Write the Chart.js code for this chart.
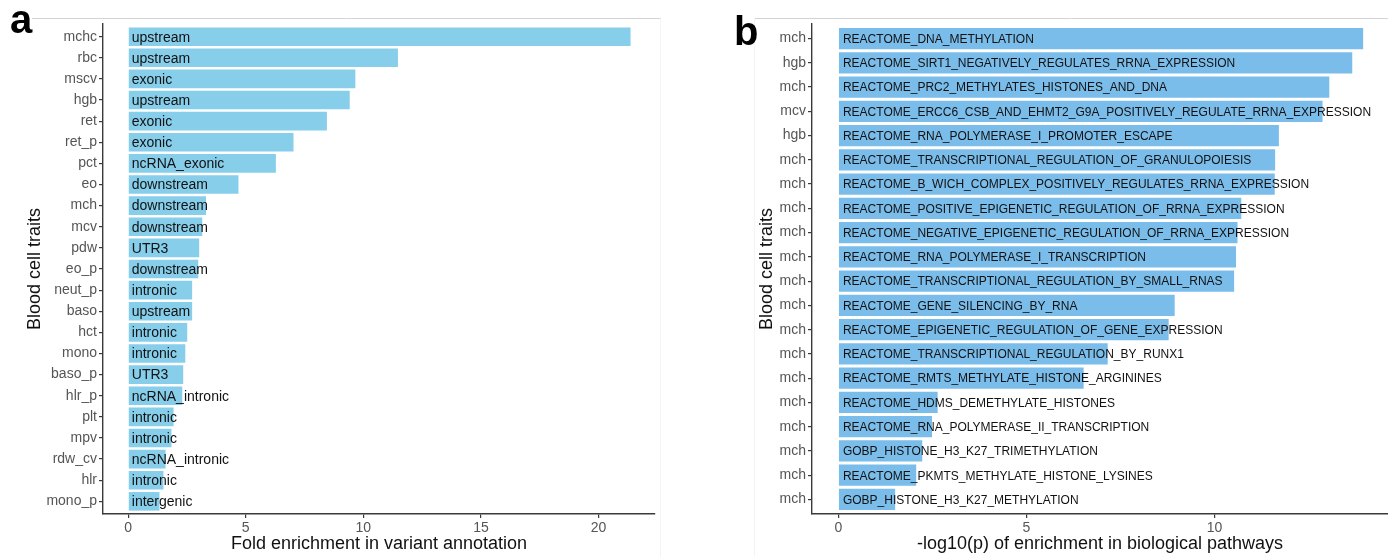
<!DOCTYPE html>
<html>
<head>
<meta charset="utf-8">
<title>Blood cell trait enrichment</title>
<script src="https://cdn.jsdelivr.net/npm/chart.js@4.4.1/dist/chart.umd.min.js"></script>
<style>
    html, body { margin: 0; padding: 0; background: #ffffff; }
    #wrap { position: relative; width: 1388px; height: 557px; overflow: hidden; }
    canvas { position: absolute; top: 0; }
    #panelA { left: 0; }
    #panelB { left: 661px; }
</style>
</head>
<body>
<div id="wrap">
    <canvas id="panelA" width="661" height="557"></canvas>
    <canvas id="panelB" width="727" height="557"></canvas>
</div>
<script>
// Panel a - fold enrichment by variant annotation
const traitsA = ['mchc', 'rbc', 'mscv', 'hgb', 'ret', 'ret_p', 'pct', 'eo', 'mch', 'mcv', 'pdw', 'eo_p',
    'neut_p', 'baso', 'hct', 'mono', 'baso_p', 'hlr_p', 'plt', 'mpv', 'rdw_cv', 'hlr', 'mono_p'];
const foldEnrichment = [21.36, 11.47, 9.66, 9.42, 8.45, 7.03, 6.28, 4.69, 3.31, 3.15, 3.02, 2.98,
    2.72, 2.72, 2.51, 2.43, 2.34, 2.30, 1.93, 1.84, 1.59, 1.50, 1.33];
const annotationsA = ['upstream', 'upstream', 'exonic', 'upstream', 'exonic', 'exonic', 'ncRNA_exonic',
    'downstream', 'downstream', 'downstream', 'UTR3', 'downstream', 'intronic', 'upstream', 'intronic',
    'intronic', 'UTR3', 'ncRNA_intronic', 'intronic', 'intronic', 'ncRNA_intronic', 'intronic', 'intergenic'];

// Panel b - -log10(p) by biological pathway
const traitsB = ['mch', 'hgb', 'mch', 'mcv', 'hgb', 'mch', 'mch', 'mch', 'mch', 'mch',
    'mch', 'mch', 'mch', 'mch', 'mch', 'mch', 'mch', 'mch', 'mch', 'mch'];
const log10p = [13.95, 13.66, 13.05, 12.87, 11.71, 11.61, 11.60, 10.71, 10.61, 10.57,
    10.52, 8.94, 8.78, 7.16, 6.52, 2.64, 2.49, 2.23, 2.07, 1.51];
const pathwaysB = [
    'REACTOME_DNA_METHYLATION',
    'REACTOME_SIRT1_NEGATIVELY_REGULATES_RRNA_EXPRESSION',
    'REACTOME_PRC2_METHYLATES_HISTONES_AND_DNA',
    'REACTOME_ERCC6_CSB_AND_EHMT2_G9A_POSITIVELY_REGULATE_RRNA_EXPRESSION',
    'REACTOME_RNA_POLYMERASE_I_PROMOTER_ESCAPE',
    'REACTOME_TRANSCRIPTIONAL_REGULATION_OF_GRANULOPOIESIS',
    'REACTOME_B_WICH_COMPLEX_POSITIVELY_REGULATES_RRNA_EXPRESSION',
    'REACTOME_POSITIVE_EPIGENETIC_REGULATION_OF_RRNA_EXPRESSION',
    'REACTOME_NEGATIVE_EPIGENETIC_REGULATION_OF_RRNA_EXPRESSION',
    'REACTOME_RNA_POLYMERASE_I_TRANSCRIPTION',
    'REACTOME_TRANSCRIPTIONAL_REGULATION_BY_SMALL_RNAS',
    'REACTOME_GENE_SILENCING_BY_RNA',
    'REACTOME_EPIGENETIC_REGULATION_OF_GENE_EXPRESSION',
    'REACTOME_TRANSCRIPTIONAL_REGULATION_BY_RUNX1',
    'REACTOME_RMTS_METHYLATE_HISTONE_ARGININES',
    'REACTOME_HDMS_DEMETHYLATE_HISTONES',
    'REACTOME_RNA_POLYMERASE_II_TRANSCRIPTION',
    'GOBP_HISTONE_H3_K27_TRIMETHYLATION',
    'REACTOME_PKMTS_METHYLATE_HISTONE_LYSINES',
    'GOBP_HISTONE_H3_K27_METHYLATION'
];

const FONT = "'Liberation Sans', Arial, Helvetica, sans-serif";
const AXIS = '#3a3a3a';
const TICK_TEXT = '#555555';
Chart.defaults.font.family = FONT;

// Writes the annotation / pathway name inside each bar, starting at the zero line
const barTextPlugin = {
    id: 'barText',
    afterDatasetsDraw(chart, args, opts) {
        const ctx = chart.ctx;
        const meta = chart.getDatasetMeta(0);
        ctx.save();
        ctx.font = opts.size + 'px ' + FONT;
        ctx.fillStyle = '#111111';
        ctx.textAlign = 'left';
        ctx.textBaseline = 'middle';
        meta.data.forEach((bar, i) => {
            ctx.fillText(opts.labels[i], bar.base + opts.offset, bar.y + 1);
        });
        ctx.restore();
    }
};

// Panel letter and the faint panel border
const framePlugin = {
    id: 'frame',
    beforeDraw(chart, args, opts) {
        const ctx = chart.ctx;
        ctx.save();
        ctx.strokeStyle = '#d4d4d4';
        ctx.lineWidth = 1;
        ctx.beginPath();
        ctx.moveTo(opts.lineStart, 18.5);
        ctx.lineTo(opts.lineEnd, 18.5);
        ctx.stroke();
        ctx.strokeStyle = '#f4f4f4';
        ctx.beginPath();
        ctx.moveTo(opts.sideX + 0.5, 18.5);
        ctx.lineTo(opts.sideX + 0.5, 557);
        ctx.stroke();
        ctx.restore();
    },
    afterDraw(chart, args, opts) {
        const ctx = chart.ctx;
        ctx.save();
        ctx.font = 'bold 40px ' + FONT;
        ctx.fillStyle = '#000000';
        ctx.textBaseline = 'alphabetic';
        ctx.fillText(opts.letter, opts.letterX, opts.letterY);
        ctx.restore();
    }
};

function buildPanel(cfg) {
    const n = cfg.traits.length;
    return new Chart(document.getElementById(cfg.id), {
        type: 'bar',
        data: {
            datasets: [{
                data: cfg.values.map((v, i) => ({ x: v, y: i })),
                backgroundColor: cfg.color,
                borderWidth: 0,
                categoryPercentage: 1,
                barPercentage: 0.88
            }]
        },
        options: {
            indexAxis: 'y',
            responsive: false,
            animation: false,
            layout: { padding: { top: 24, right: cfg.padRight, bottom: 0, left: 0 } },
            plugins: {
                legend: { display: false },
                tooltip: { enabled: false },
                barText: { labels: cfg.barLabels, size: cfg.barFont, offset: cfg.textOffset },
                frame: cfg.frame
            },
            scales: {
                x: {
                    type: 'linear',
                    min: cfg.xMin,
                    max: cfg.xMax,
                    ticks: {
                        stepSize: 5,
                        includeBounds: false,
                        color: TICK_TEXT,
                        font: { size: 14 },
                        padding: 2
                    },
                    grid: { drawOnChartArea: false, drawTicks: true, tickLength: 4, color: AXIS, lineWidth: 1.2 },
                    border: { display: true, color: AXIS, width: 1.4 },
                    title: {
                        display: true,
                        text: cfg.xTitle,
                        color: '#111111',
                        font: { size: 18 },
                        padding: { top: 0, bottom: 2 }
                    },
                    afterFit: (scale) => { scale.height = 43; }
                },
                y: {
                    type: 'linear',
                    reverse: true,
                    offset: false,
                    min: -0.6,
                    max: n - 0.4,
                    ticks: {
                        stepSize: 1,
                        autoSkip: false,
                        includeBounds: false,
                        color: TICK_TEXT,
                        font: { size: 14 },
                        padding: 2,
                        callback: (value) => Number.isInteger(value) ? cfg.traits[value] : null
                    },
                    grid: { offset: false, drawOnChartArea: false, drawTicks: true, tickLength: 4, color: AXIS, lineWidth: 1.2 },
                    border: { display: true, color: AXIS, width: 1.4 },
                    title: {
                        display: true,
                        text: 'Blood cell traits',
                        color: '#111111',
                        font: { size: 18 },
                        padding: { top: cfg.yTitlePad, bottom: 0 }
                    },
                    afterFit: (scale) => { scale.width = cfg.yWidth; }
                }
            }
        },
        plugins: [framePlugin, barTextPlugin]
    });
}

buildPanel({
    id: 'panelA',
    traits: traitsA,
    values: foldEnrichment,
    barLabels: annotationsA,
    color: '#87ceeb',
    barFont: 14,
    textOffset: 3,
    xMin: -1.07,
    xMax: 22.4,
    padRight: 6,
    yWidth: 103,
    yTitlePad: 24,
    xTitle: 'Fold enrichment in variant annotation',
    frame: { letter: 'a', letterX: 10, letterY: 33, lineStart: 32, lineEnd: 661, sideX: 660 }
});

buildPanel({
    id: 'panelB',
    traits: traitsB,
    values: log10p,
    barLabels: pathwaysB,
    color: '#7bbdea',
    barFont: 12,
    textOffset: 4,
    xMin: -0.70,
    xMax: 14.61,
    padRight: 0,
    yWidth: 151,
    yTitlePad: 95,
    xTitle: '-log10(p) of enrichment in biological pathways',
    frame: { letter: 'b', letterX: 73, letterY: 45, lineStart: 94, lineEnd: 727, sideX: 93 }
});
</script>
</body>
</html>
